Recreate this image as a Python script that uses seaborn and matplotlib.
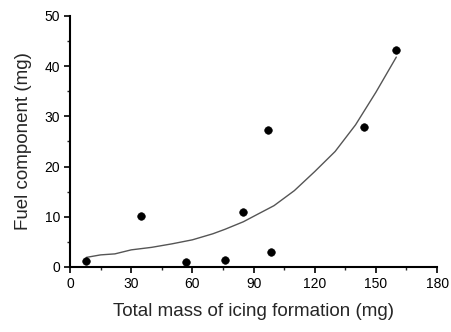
import numpy as np
import pandas as pd
import matplotlib
matplotlib.use('Agg')
import matplotlib.pyplot as plt
import seaborn as sns
from matplotlib.ticker import MultipleLocator

# measured points
icing_mass = [8, 35, 57, 76, 85, 97, 98.5, 144, 160]
fuel_component = [1.1, 10.1, 0.9, 1.4, 11.0, 27.2, 2.9, 27.8, 43.3]

# fitted curve
curve_x = [8, 15, 22, 30, 40, 50, 60, 70, 76, 85, 92, 100, 110, 120, 130, 140, 150, 160]
curve_y = [1.9, 2.4, 2.6, 3.4, 3.9, 4.6, 5.4, 6.6, 7.5, 9.0, 10.5, 12.2, 15.2, 19.0, 23.0, 28.3, 34.8, 41.8]

sns.set_style('ticks')
plt.rcParams['font.family'] = ['Liberation Sans', 'DejaVu Sans']

df = pd.DataFrame({'mass': icing_mass, 'fuel': fuel_component})
fit = pd.DataFrame({'mass': curve_x, 'fuel': curve_y})

fig = plt.figure(figsize=(4.52, 3.32), dpi=100)
ax = fig.add_axes([0.155, 0.196, 0.812, 0.756])

sns.lineplot(data=fit, x='mass', y='fuel', ax=ax, color='#555555', linewidth=1.0)
sns.scatterplot(data=df, x='mass', y='fuel', ax=ax, color='black', s=30, edgecolor='black', zorder=3)

ax.set_xlim(0, 180)
ax.set_ylim(0, 50)
ax.xaxis.set_major_locator(MultipleLocator(30))
ax.xaxis.set_minor_locator(MultipleLocator(15))
ax.yaxis.set_major_locator(MultipleLocator(10))
ax.yaxis.set_minor_locator(MultipleLocator(5))
ax.tick_params(which='major', length=4, width=1.2, labelsize=10, pad=3, colors='black')
ax.tick_params(which='minor', length=2.5, width=1.0)
for s in ['left', 'bottom']:
    ax.spines[s].set_linewidth(1.5)
    ax.spines[s].set_color('black')
sns.despine(ax=ax)

ax.set_xlabel('Total mass of icing formation (mg)', fontsize=13.5, labelpad=9)
ax.set_ylabel('Fuel component (mg)', fontsize=13.5, labelpad=9)

fig.savefig('out.png', dpi=100)
